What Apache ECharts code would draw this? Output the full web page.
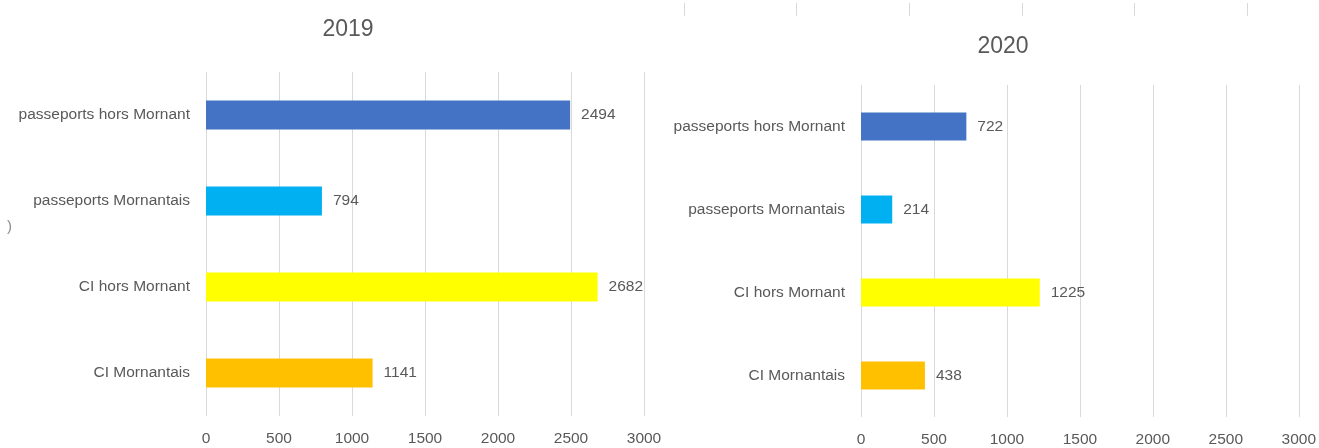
<!DOCTYPE html>
<html><head><meta charset="utf-8">
<script src="https://cdn.jsdelivr.net/npm/echarts@6/dist/echarts.min.js"></script>
<style>html,body{margin:0;padding:0;background:#fff}#c{width:1319px;height:448px}</style>
</head><body><div id="c"></div>
<script>
const categories = ['passeports hors Mornant', 'passeports Mornantais', 'CI hors Mornant', 'CI Mornantais'];
const values2019 = [2494, 794, 2682, 1141];
const values2020 = [722, 214, 1225, 438];
const barColors = ['#4472C4', '#00B0F0', '#FFFF00', '#FFC000'];
const titles = ['2019', '2020'];
const axisMin = 0, axisMax = 3000, axisStep = 500;

const FONT = '"Liberation Sans", Arial, sans-serif';
const TXT = '#595959';
const FS = 15.5;
const chart = echarts.init(document.getElementById('c'));

function xAx(gi) {
  return {
    type: 'value', gridIndex: gi, min: axisMin, max: axisMax, interval: axisStep,
    axisLine: {show: false}, axisTick: {show: false},
    splitLine: {lineStyle: {color: '#D9D9D9', width: 1}},
    axisLabel: {color: TXT, fontFamily: FONT, fontSize: FS, margin: 15, formatter: v => String(v)}
  };
}
function yAx(gi) {
  return {
    type: 'category', gridIndex: gi, data: categories, inverse: true,
    axisLine: {show: false}, axisTick: {show: false},
    axisLabel: {color: TXT, fontFamily: FONT, fontSize: FS, margin: 16}
  };
}
function ser(gi, vals, bw) {
  return {
    type: 'bar', xAxisIndex: gi, yAxisIndex: gi, barWidth: bw,
    data: vals.map((v, i) => ({value: v, itemStyle: {color: barColors[i]}})),
    label: {show: true, position: 'right', distance: 11, color: TXT, fontFamily: FONT, fontSize: FS},
    silent: true
  };
}

chart.setOption({
  animation: false,
  title: [
    {text: titles[0], left: 343, top: 13, textAlign: 'center', textStyle: {color: TXT, fontFamily: FONT, fontSize: 23, fontWeight: 'normal'}},
    {text: titles[1], left: 998, top: 30, textAlign: 'center', textStyle: {color: TXT, fontFamily: FONT, fontSize: 23, fontWeight: 'normal'}}
  ],
  grid: [
    {left: 206, right: 675, top: 72, bottom: 32},
    {left: 861, right: 20, top: 85, bottom: 31},
    {left: 684, right: 72, top: 3, height: 13}
  ],
  xAxis: [xAx(0), xAx(1), {
    type: 'value', gridIndex: 2, min: 0, max: 5, interval: 1,
    axisLine: {show: false}, axisTick: {show: false}, axisLabel: {show: false},
    splitLine: {lineStyle: {color: '#D9D9D9', width: 1}}
  }],
  yAxis: [yAx(0), yAx(1), {type: 'value', gridIndex: 2, show: false}],
  series: [ser(0, values2019, 29), ser(1, values2020, 28)],
  graphic: [{type: 'text', left: 7, top: 219, style: {text: ')', fill: '#8c8c8c', font: '15px ' + FONT}}]
});
</script></body></html>
